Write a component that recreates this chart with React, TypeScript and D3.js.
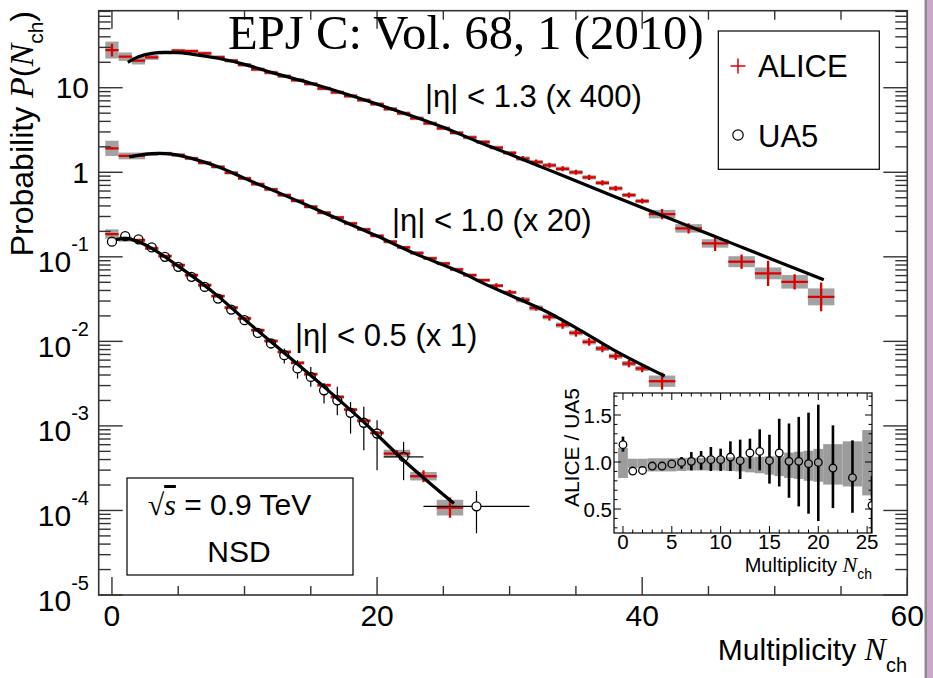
import React from 'react';
import * as d3 from 'd3';

const SANS = '"Liberation Sans", Arial, Helvetica, sans-serif';
const SERIF = '"Liberation Serif", "Times New Roman", serif';
const RED = '#dd0000';
const BOXGREY = '#a2a2a2';
const AXIS = '#333333';

// ---------- main panel data : ALICE |eta|<1.3 (x400) ----------
const nEta13 = [0,1,2,3,4,5,6,7,8,9,10,11,12,13,14,15,16,17,18,19,20,21,22,23,24,25,26,27,28,29,30,31,32,33,34,35,36,37,38,39,40,41.5,43.5,45.5,47.5,49.5,51.5,53.5];
const pEta13 = [27.9,23.3,20.9,22.9,26.0,27.4,27.0,25.5,23.0,20.9,18.6,16.5,15.1,13.7,12.3,11.1,9.8,8.8,7.98,7.15,6.41,5.6,4.98,4.35,3.79,3.31,2.93,2.59,2.28,1.96,1.7,1.45,1.32,1.21,1.10,1.0,0.87,0.75,0.645,0.537,0.457,0.32,0.217,0.144,0.0876,0.0637,0.0506,0.0336];
const sysEta13 = [0.1,0.05,0.045,0.03,0.022,0.022,0.022,0.022,0.022,0.022,0.022,0.022,0.022,0.022,0.022,0.022,0.022,0.022,0.022,0.022,0.022,0.022,0.022,0.022,0.022,0.022,0.022,0.022,0.022,0.022,0.022,0.025,0.025,0.025,0.025,0.025,0.025,0.025,0.025,0.025,0.025,0.05,0.05,0.05,0.065,0.07,0.08,0.1];
const statEta13 = [0.075,0.008,0.008,0.008,0.008,0.008,0.008,0.008,0.008,0.008,0.008,0.008,0.008,0.008,0.008,0.008,0.008,0.008,0.008,0.008,0.008,0.008,0.008,0.008,0.008,0.008,0.008,0.008,0.008,0.008,0.008,0.03,0.03,0.03,0.03,0.03,0.03,0.03,0.03,0.03,0.03,0.06,0.06,0.09,0.085,0.15,0.09,0.17];

// ---------- ALICE |eta|<1.0 (x20) ----------
const nEta10 = [0,1,2,3,4,5,6,7,8,9,10,11,12,13,14,15,16,17,18,19,20,21,22,23,24,25,26,27,28,29,30,31,32,33,34,35,36,37,38,39,40,41.5];
const pEta10 = [1.92,1.56,1.56,1.64,1.67,1.6,1.46,1.29,1.16,0.986,0.847,0.725,0.627,0.537,0.46,0.391,0.332,0.292,0.248,0.211,0.177,0.151,0.129,0.111,0.096,0.0835,0.071,0.0607,0.053,0.0455,0.038,0.031,0.0248,0.0195,0.0156,0.0126,0.00986,0.00824,0.00668,0.00547,0.00478,0.00338];
const sysEta10 = [0.09,0.04,0.04,0.02,0.02,0.02,0.02,0.02,0.02,0.02,0.02,0.02,0.02,0.02,0.02,0.02,0.02,0.02,0.02,0.02,0.02,0.02,0.02,0.02,0.02,0.02,0.02,0.02,0.02,0.02,0.02,0.03,0.03,0.03,0.03,0.03,0.03,0.03,0.03,0.03,0.03,0.067];
const statEta10 = [0.01,0.006,0.006,0.006,0.006,0.006,0.006,0.006,0.006,0.006,0.006,0.006,0.006,0.006,0.006,0.006,0.006,0.006,0.006,0.006,0.006,0.006,0.006,0.006,0.006,0.006,0.006,0.006,0.006,0.03,0.03,0.03,0.03,0.045,0.045,0.045,0.045,0.045,0.045,0.045,0.045,0.1];

// ---------- ALICE |eta|<0.5 (x1) ----------
const nEta05 = [0,1,2,3,4,5,6,7,8,9,10,11,12,13,14,15,16,17,18,19,20,21.5,23.5,25.5];
const pEta05 = [0.186,0.162,0.157,0.126,0.102,0.0798,0.0607,0.0462,0.0343,0.0251,0.0187,0.01355,0.0101,0.0075,0.00557,0.00409,0.00303,0.0022,0.00156,0.00115,0.000826,0.000471,0.000254,0.000108];
const sysEta05 = [0.055,0.03,0.02,0.02,0.02,0.02,0.02,0.02,0.02,0.02,0.02,0.02,0.02,0.02,0.02,0.02,0.02,0.02,0.02,0.02,0.02,0.045,0.05,0.093];
const statEta05 = [0.005,0.005,0.005,0.005,0.005,0.005,0.005,0.005,0.005,0.005,0.005,0.005,0.005,0.005,0.005,0.02,0.02,0.02,0.02,0.02,0.02,0.04,0.07,0.12];

// ---------- UA5 |eta|<0.5 ----------
const nUA5 = [0,1,2,3,4,5,6,7,8,9,10,11,12,13,14,15,16,17,18,19,20,22,27.5];
const pUA5 = [0.151,0.176,0.161,0.129,0.1,0.0762,0.058,0.0441,0.0321,0.0238,0.0178,0.0126,0.00944,0.00687,0.00478,0.0038,0.00264,0.00201,0.00143,0.00109,0.000813,0.00043,0.000112];
const loUA5 = [0.151,0.176,0.161,0.129,0.1,0.0762,0.058,0.0441,0.0321,0.0232,0.0168,0.0113,0.0083,0.00547,0.00363,0.0029,0.00184,0.00134,0.00081,0.000515,0.000299,0.000228,0.0000537];
const hiUA5 = [0.151,0.176,0.161,0.129,0.1,0.0762,0.058,0.0441,0.0321,0.0244,0.0188,0.014,0.0107,0.00824,0.006,0.00499,0.00318,0.0029,0.00192,0.00168,0.00117,0.000647,0.00017];
const xErrUA5 = [0,0,0,0,0,0,0,0,0,0,0,0,0,0,0,0,0,0,0,0,0,1.5,4];

// ---------- NBD fit curves ----------
const curveN13 = [1.2,2,3,4,5,6,8,10,12,15,20,25,27.8,30.3,32.8,35.3,37.8,40.3,42.9,45.4,47.9,50.4,53.7];
const curveP13 = [20.0,23.3,25.5,26.2,26.0,25.0,22.3,18.9,15.2,11.3,6.41,3.4,2.23,1.57,1.09,0.755,0.525,0.366,0.252,0.176,0.123,0.0859,0.0537];
const curveN10 = [1.3,2.4,3.5,4.5,6,8,10,13,16,20,22.7,26.8,27.8,30.3,32.8,35.3,37.8,40.3,41.7];
const curveP10 = [1.52,1.63,1.67,1.64,1.46,1.16,0.847,0.537,0.332,0.176,0.112,0.0607,0.0506,0.0337,0.0224,0.0136,0.008,0.00499,0.00389];
const curveN05 = [0.3,1,2,3,5,8,10,13,16,19,22,25.8];
const curveP05 = [0.16,0.165,0.151,0.126,0.0776,0.0343,0.0182,0.0073,0.0029,0.00111,0.000393,0.000121];

// ---------- inset: ALICE / UA5 ----------
const nRatio = [0,1,2,3,4,5,6,7,8,9,10,11,12,13,14,15,16,17,18,19,20,21.5,23.5,25.5];
const rRatio = [1.184,0.904,0.91,0.957,0.957,0.98,0.996,1.007,1.025,1.025,1.025,1.053,1.014,1.096,1.113,1.014,1.096,1.007,1.007,0.982,0.996,0.936,0.833,0.539];
const rLo = [1.11,0.89,0.895,0.94,0.94,0.96,0.929,0.911,0.918,0.904,0.904,0.904,0.819,0.929,0.911,0.77,0.74,0.62,0.528,0.45,0.372,0.51,0.46,0.2];
const rHi = [1.27,0.92,0.925,0.975,0.975,1.0,1.053,1.106,1.117,1.16,1.142,1.22,1.238,1.248,1.348,1.29,1.46,1.41,1.48,1.525,1.61,1.39,1.23,0.85];
const bandLo = [0.83,0.935,0.935,0.9,0.9,0.9,0.905,0.91,0.91,0.91,0.91,0.905,0.9,0.89,0.88,0.865,0.85,0.83,0.82,0.8,0.79,0.76,0.74,0.645];
const bandHi = [1.15,1.035,1.035,1.04,1.04,1.04,1.045,1.045,1.045,1.05,1.05,1.05,1.05,1.05,1.055,1.06,1.06,1.1,1.11,1.12,1.14,1.19,1.22,1.34];

// ---------- axis ticks ----------
const xMajor = [0, 20, 40, 60];
const xMinor = [5, 10, 15, 25, 30, 35, 45, 50, 55];
const yExponents = [-5, -4, -3, -2, -1, 0, 1];
const insetXMajor = [0, 5, 10, 15, 20, 25];
const insetYMajor = [0.5, 1.0, 1.5];
const insetYLabels = ['0.5', '1.0', '1.5'];

const half = (n: number) => (Number.isInteger(n) ? 0.5 : 1);

export default function App() {
  const L = 98.7, R = 907.3, T = 10.7, B = 595;
  const x = d3.scaleLinear().domain([-1, 60]).range([L, R]);
  const y = d3.scaleLog().domain([1e-5, 81.5]).range([B, T]);

  const IL = 614, IR = 872, IT = 393, IB = 533;
  const ix = d3.scaleLinear().domain([-0.92, 25.5]).range([IL, IR]);
  const iy = d3.scaleLinear().domain([0.245, 1.734]).range([IB, IT]);

  const series = [
    { n: nEta13, p: pEta13, sys: sysEta13, stat: statEta13 },
    { n: nEta10, p: pEta10, sys: sysEta10, stat: statEta10 },
    { n: nEta05, p: pEta05, sys: sysEta05, stat: statEta05 },
  ];
  const curves = [
    { n: curveN13, p: curveP13 },
    { n: curveN10, p: curveP10 },
    { n: curveN05, p: curveP05 },
  ];
  const line = d3
    .line<[number, number]>()
    .x((d) => x(d[0]))
    .y((d) => y(d[1]))
    .curve(d3.curveMonotoneX);

  const yMinor: number[] = [];
  for (let e = -5; e <= 1; e++) {
    for (let k = 2; k <= 9; k++) {
      const v = k * Math.pow(10, e);
      if (v <= 81.5) yMinor.push(v);
    }
  }

  const insetXMinor = d3.range(0, 26).filter((v) => v % 5 !== 0);
  const insetYMinor = d3.range(3, 18).map((v) => v / 10).filter((v) => Math.abs(v - 0.5) > 1e-6 && Math.abs(v - 1) > 1e-6 && Math.abs(v - 1.5) > 1e-6);

  const uaR = 4.5;
  const rR = 3.8;

  return (
    <svg width={933} height={678} style={{ position: 'absolute', left: 0, top: 0, background: '#fff' }} fontFamily={SANS}>
      <defs>
        <clipPath id="mainClip">
          <rect x={L} y={T} width={R - L} height={B - T} />
        </clipPath>
        <clipPath id="insetClip">
          <rect x={IL} y={IT} width={IR - IL} height={IB - IT} />
        </clipPath>
      </defs>
      <rect x={0} y={0} width={933} height={678} fill="#fff" />

      {/* right-edge page decoration */}
      <rect x={924.5} y={0} width={2.5} height={678} fill="#8c8c8c" />
      <rect x={927} y={0} width={6} height={678} fill="#c8a9cc" />

      <g clipPath="url(#mainClip)">
        {/* systematic boxes */}
        {series.map((s, si) =>
          s.n.map((n, i) => {
            const v = s.p[i];
            const h = half(n);
            const y0 = y(v * Math.pow(10, s.sys[i]));
            const y1 = y(v * Math.pow(10, -s.sys[i]));
            return <rect key={`b${si}-${i}`} x={x(n - h)} y={y0} width={x(n + h) - x(n - h)} height={y1 - y0} fill={BOXGREY} />;
          })
        )}
        {/* red crosses */}
        {series.map((s, si) =>
          s.n.map((n, i) => {
            const v = s.p[i];
            const h = half(n);
            return (
              <g key={`c${si}-${i}`} stroke={RED} strokeWidth={2.3}>
                <line x1={x(n - h)} x2={x(n + h)} y1={y(v)} y2={y(v)} />
                <line x1={x(n)} x2={x(n)} y1={y(v * Math.pow(10, s.stat[i]))} y2={y(v * Math.pow(10, -s.stat[i]))} />
              </g>
            );
          })
        )}
        {/* UA5 */}
        {nUA5.map((n, i) => {
          const cx = x(n);
          const cy = y(pUA5[i]);
          const yHi = y(hiUA5[i]);
          const yLo = y(loUA5[i]);
          const xe = xErrUA5[i];
          return (
            <g key={`u${i}`} stroke="#000" strokeWidth={1.2} fill="none">
              {cy - yHi > uaR && <line x1={cx} x2={cx} y1={yHi} y2={cy - uaR} />}
              {yLo - cy > uaR && <line x1={cx} x2={cx} y1={cy + uaR} y2={yLo} />}
              {xe > 0 && <line x1={x(n - xe)} x2={cx - uaR} y1={cy} y2={cy} />}
              {xe > 0 && <line x1={cx + uaR} x2={x(n + xe)} y1={cy} y2={cy} />}
              <circle cx={cx} cy={cy} r={uaR} strokeWidth={1.3} />
            </g>
          );
        })}
        {/* fit curves */}
        {curves.map((c, ci) => (
          <path
            key={`f${ci}`}
            d={line(c.n.map((n, i) => [n, c.p[i]] as [number, number])) || ''}
            fill="none"
            stroke="#000"
            strokeWidth={3.2}
          />
        ))}
      </g>

      {/* frame and ticks */}
      <rect x={L} y={T} width={R - L} height={B - T} fill="none" stroke={AXIS} strokeWidth={1.6} />
      <g stroke={AXIS} strokeWidth={1.4}>
        {xMajor.map((v) => (
          <g key={`xM${v}`}>
            <line x1={x(v)} x2={x(v)} y1={B} y2={B - 18} />
            <line x1={x(v)} x2={x(v)} y1={T} y2={T + 18} />
          </g>
        ))}
        {xMinor.map((v) => (
          <g key={`xm${v}`}>
            <line x1={x(v)} x2={x(v)} y1={B} y2={B - 9} />
            <line x1={x(v)} x2={x(v)} y1={T} y2={T + 9} />
          </g>
        ))}
        {yExponents.map((e) => {
          const yy = y(Math.pow(10, e));
          return (
            <g key={`yM${e}`}>
              <line x1={L} x2={L + 24} y1={yy} y2={yy} />
              <line x1={R} x2={R - 24} y1={yy} y2={yy} />
            </g>
          );
        })}
        {yMinor.map((v, i) => (
          <g key={`ym${i}`}>
            <line x1={L} x2={L + 12} y1={y(v)} y2={y(v)} />
            <line x1={R} x2={R - 12} y1={y(v)} y2={y(v)} />
          </g>
        ))}
      </g>

      {/* tick labels */}
      <g fontSize={30} fill="#000">
        {xMajor.map((v) => (
          <text key={`xl${v}`} x={x(v)} y={626} textAnchor="middle">
            {v}
          </text>
        ))}
        {yExponents.map((e) => {
          const yy = y(Math.pow(10, e));
          if (e >= 0) {
            return (
              <text key={`yl${e}`} x={89} y={yy + 10.5} textAnchor="end">
                {e === 1 ? '10' : '1'}
              </text>
            );
          }
          return (
            <text key={`yl${e}`} x={89} y={yy + 15.5} textAnchor="end">
              10
              <tspan fontSize={20} dy={-21}>{`-${-e}`}</tspan>
            </text>
          );
        })}
      </g>

      {/* axis titles */}
      <text x={907} y={660} textAnchor="end" fontSize={30}>
        Multiplicity{' '}
        <tspan fontFamily={SERIF} fontStyle="italic" fontSize={32}>N</tspan>
        <tspan fontSize={20} dy={12}>ch</tspan>
      </text>
      <text transform="translate(33,11) rotate(-90)" textAnchor="end" fontSize={32}>
        Probability{' '}
        <tspan fontFamily={SERIF} fontStyle="italic" fontSize={34}>P</tspan>
        <tspan>(</tspan>
        <tspan fontFamily={SERIF} fontStyle="italic" fontSize={34}>N</tspan>
        <tspan fontSize={21} dy={10}>ch</tspan>
        <tspan dy={-10}>)</tspan>
      </text>

      {/* series labels */}
      <g fontSize={31}>
        <text x={425} y={107}>|η| &lt; 1.3 (x 400)</text>
        <text x={392} y={231}>|η| &lt; 1.0 (x 20)</text>
        <text x={295} y={346}>|η| &lt; 0.5 (x 1)</text>
      </g>

      {/* publication title */}
      <text x={228} y={49} fontFamily={SERIF} fontSize={48.7}>
        EPJ C: Vol. 68, 1 (2010)
      </text>

      {/* legend */}
      <rect x={718.3} y={31} width={161} height={138.3} fill="#fff" stroke="#000" strokeWidth={1.2} />
      <g stroke={RED} strokeWidth={1.5}>
        <line x1={730.5} x2={745.5} y1={66} y2={66} />
        <line x1={738} x2={738} y1={58.5} y2={73.5} />
      </g>
      <circle cx={738} cy={135} r={5.2} fill="none" stroke="#000" strokeWidth={1.2} />
      <g fontSize={31}>
        <text x={758} y={77}>ALICE</text>
        <text x={758} y={147}>UA5</text>
      </g>

      {/* energy box */}
      <rect x={127} y={478} width={226} height={97} fill="#fff" stroke="#000" strokeWidth={1.2} />
      <text x={229.5} y={515} textAnchor="middle" fontSize={30}>
        <tspan fontFamily={SERIF}>√</tspan>
        <tspan fontFamily={SERIF} fontStyle="italic" style={{ textDecoration: 'overline' }}>s</tspan>
        <tspan> = 0.9 TeV</tspan>
      </text>
      <text x={239} y={562} textAnchor="middle" fontSize={30}>NSD</text>

      {/* ---------------- inset ---------------- */}
      <rect x={IL} y={IT} width={IR - IL} height={IB - IT} fill="#fff" />
      <g clipPath="url(#insetClip)">
        {nRatio.map((n, i) => {
          const h = half(n);
          return (
            <rect
              key={`ib${i}`}
              x={ix(n - h)}
              y={iy(bandHi[i])}
              width={ix(n + h) - ix(n - h)}
              height={iy(bandLo[i]) - iy(bandHi[i])}
              fill="#9c9c9c"
            />
          );
        })}
        {nRatio.map((n, i) => {
          const cx = ix(n);
          const cy = iy(rRatio[i]);
          const yHi = iy(rHi[i]);
          const yLo = iy(rLo[i]);
          return (
            <g key={`ip${i}`} stroke="#000" fill="none">
              {cy - yHi > rR && <line x1={cx} x2={cx} y1={yHi} y2={cy - rR} strokeWidth={2.6} />}
              {yLo - cy > rR && <line x1={cx} x2={cx} y1={cy + rR} y2={yLo} strokeWidth={2.6} />}
              <circle cx={cx} cy={cy} r={rR} strokeWidth={1.3} />
            </g>
          );
        })}
      </g>
      <rect x={IL} y={IT} width={IR - IL} height={IB - IT} fill="none" stroke="#000" strokeWidth={1.2} />
      <g stroke="#000" strokeWidth={1}>
        {insetXMajor.map((v) => (
          <g key={`ixM${v}`}>
            <line x1={ix(v)} x2={ix(v)} y1={IB} y2={IB - 7} />
            <line x1={ix(v)} x2={ix(v)} y1={IT} y2={IT + 7} />
          </g>
        ))}
        {insetXMinor.map((v) => (
          <g key={`ixm${v}`}>
            <line x1={ix(v)} x2={ix(v)} y1={IB} y2={IB - 3.5} />
            <line x1={ix(v)} x2={ix(v)} y1={IT} y2={IT + 3.5} />
          </g>
        ))}
        {insetYMajor.map((v) => (
          <g key={`iyM${v}`}>
            <line x1={IL} x2={IL + 7} y1={iy(v)} y2={iy(v)} />
            <line x1={IR} x2={IR - 7} y1={iy(v)} y2={iy(v)} />
          </g>
        ))}
        {insetYMinor.map((v) => (
          <g key={`iym${v}`}>
            <line x1={IL} x2={IL + 3.5} y1={iy(v)} y2={iy(v)} />
            <line x1={IR} x2={IR - 3.5} y1={iy(v)} y2={iy(v)} />
          </g>
        ))}
      </g>
      <g fontSize={20.5}>
        {insetXMajor.map((v) => (
          <text key={`ixl${v}`} x={ix(v)} y={549} textAnchor="middle">
            {v}
          </text>
        ))}
        {insetYMajor.map((v, i) => (
          <text key={`iyl${v}`} x={612} y={iy(v) + 7.5} textAnchor="end">
            {insetYLabels[i]}
          </text>
        ))}
        <text x={872} y={572} textAnchor="end" fontSize={20}>
          Multiplicity{' '}
          <tspan fontFamily={SERIF} fontStyle="italic" fontSize={22}>N</tspan>
          <tspan fontSize={14} dy={7}>ch</tspan>
        </text>
        <text transform="translate(579,388) rotate(-90)" textAnchor="end" fontSize={21}>
          ALICE / UA5
        </text>
      </g>
    </svg>
  );
}
